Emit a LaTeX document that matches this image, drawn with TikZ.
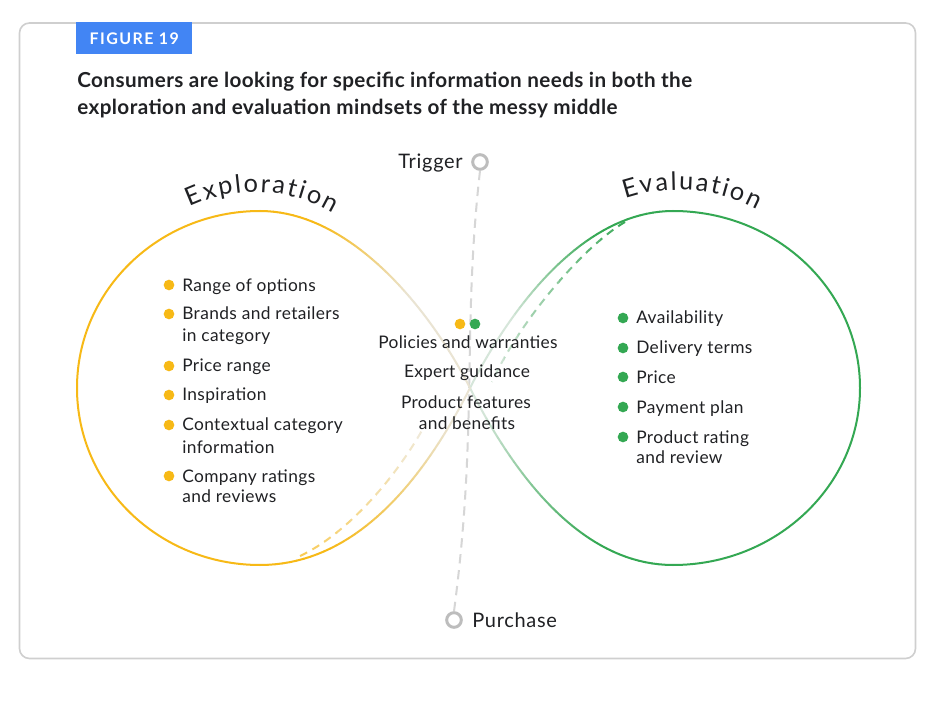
\documentclass[tikz,border=0pt]{standalone}
\usepackage{fontspec}
\setmainfont{Lato}
\usetikzlibrary{calc}
\definecolor{gyel}{HTML}{F7B916}
\definecolor{ggrn}{HTML}{34A853}
\definecolor{gblu}{HTML}{4285F4}
\definecolor{txt}{HTML}{202124}
\definecolor{framec}{HTML}{CFCFCF}
\definecolor{dashgray}{HTML}{D6D6D6}
\definecolor{ringgray}{HTML}{BDBDBD}
\definecolor{paley}{HTML}{EAE4D3}
\definecolor{paleg}{HTML}{D6E6DA}
\newcommand\arcfont{\fontsize{19}{22}\selectfont}
\newdimen\arcacc
\newdimen\arcsum
\newdimen\arcoff
\newdimen\arcgap
\newdimen\arcchw
\newcommand\measurech[1]{%
  \pgfinterruptpicture\global\setbox1=\hbox{\arcfont#1}\endpgfinterruptpicture
  \global\arcchw=\wd1\relax}
% #1 center coordinate, #2 radius px, #3 mid angle, #4 letter spacing (dimen), #5 name prefix, #6 letters
\newcommand\arctext[6]{%
  \global\arcgap=#4\relax
  \global\arcsum=0pt\relax
  \foreach \ch in {#6}{\measurech{\ch}\global\advance\arcsum by \arcchw\relax
    \global\advance\arcsum by \arcgap\relax}%
  \global\advance\arcsum by -\arcgap\relax
  \pgfmathsetmacro\arcr{#2*0.75}%
  \xdef\arcrg{\arcr}%
  \global\arcacc=0pt\relax
  \foreach \ch [count=\k] in {#6}{%
    \measurech{\ch}%
    \arcoff=0.5\arcsum\relax
    \advance\arcoff by -\arcacc\relax
    \advance\arcoff by -0.5\arcchw\relax
    \pgfmathsetmacro\ang{#3+(\arcoff/\arcrg)*180/pi}%
    \node[rotate=\ang-90, anchor=base, inner sep=0pt, outer sep=0pt, font=\arcfont, text=txt]
      (#5\k) at ($(#1)+(\ang:\arcrg pt)$) {\ch};
    \global\advance\arcacc by \arcchw\relax
    \global\advance\arcacc by \arcgap\relax
  }%
}
% faded cubic: #1..#4 points, #5 prefix, #6 colA, #7 colB, #8 ts, #9 te
\newcommand\fadecurve[9]{%
  \foreach \i in {0,...,40}{\path #1 .. controls #2 and #3 .. #4 coordinate[pos=\i/40] (#5\i);}%
  \foreach \i in {0,...,39}{%
    \pgfmathtruncatemacro\j{\i+1}%
    \pgfmathsetmacro\tq{(\i+0.5)/40}%
    \pgfmathtruncatemacro\pp{100*max(0,min(1,(\tq-#8)/(#9-#8)))}%
    \draw[strand, color=#7!\pp!#6] (#5\i) -- (#5\j);
  }%
}
% dashed path with colour bands along x: #1 path, #2 x0, #3 x1, #4 colA, #5 colB
\newcommand\banddash[5]{%
  \foreach \k in {0,...,9}{%
    \begin{scope}
      \pgfmathsetmacro\xa{#2+(#3-#2)*\k/10}%
      \pgfmathsetmacro\xb{#2+(#3-#2)*(\k+1)/10+0.6}%
      \clip (\xa,0) rectangle (\xb,702);
      \pgfmathtruncatemacro\pp{(\k+0.5)*10}%
      \draw[innerdash, color=#5!\pp!#4] #1;
    \end{scope}
  }%
}
\begin{document}
\begin{tikzpicture}[x=0.75pt,y=-0.75pt,
  strand/.style={line width=1.5pt, line cap=round},
  innerdash/.style={line width=1.5pt, dash pattern=on 6pt off 4.5pt},
  loopy/.style={strand, draw=gyel},
  loopg/.style={strand, draw=ggrn},
  item/.style={anchor=base west, inner sep=0pt, text=txt, font=\fontsize{13}{15}\selectfont\addfontfeature{LetterSpace=2.3}},
  citem/.style={anchor=base, inner sep=0pt, text=txt, font=\fontsize{13}{15}\selectfont\addfontfeature{LetterSpace=1.5}},
  dotb/.style={circle, inner sep=0pt, minimum size=8pt},
  ring/.style={circle, draw=ringgray, line width=2.2pt, inner sep=0pt, minimum size=11pt},
  bigt/.style={inner sep=0pt, text=txt, font=\fontsize{15}{17}\selectfont\addfontfeature{LetterSpace=3.5}}]
\useasboundingbox (0,0) rectangle (936,702);
\fill[white] (0,0) rectangle (936,702);
% frame
\draw[framec, line width=1.2pt, rounded corners=7.5pt] (19.5,23) rectangle (915.5,658.5);
\node[fill=gblu, anchor=north west, inner sep=0pt, minimum width=87pt, minimum height=24pt,
  text=white, font=\bfseries\fontsize{12}{14}\selectfont] (fig) at (76,22)
  {\addfontfeature{LetterSpace=9}FIGURE 19};
\node[anchor=base west, inner sep=0pt, text=txt, font=\bfseries\fontsize{15.5}{18}\selectfont\addfontfeature{LetterSpace=2}]
  (title1) at (77,88) {Consumers are looking for specific information needs in both the};
\node[anchor=base west, inner sep=0pt, text=txt, font=\bfseries\fontsize{15.5}{18}\selectfont\addfontfeature{LetterSpace=2}]
  (title2) at (77,115) {exploration and evaluation mindsets of the messy middle};

% key points
\coordinate (T1) at (260,211);
\coordinate (L1) at (77,388);
\coordinate (B1) at (260,565);
\coordinate (T2) at (673,211);
\coordinate (R2) at (860,388);
\coordinate (B2) at (673,565);
\coordinate (C) at (470,388);

% trigger / purchase line
\node[ring] (trig) at (480,162) {};
\node[ring] (purch) at (454,620) {};
\draw[dashgray, line width=1.5pt, dash pattern=on 7pt off 5pt]
  (trig.south) .. controls (462,330) and (478,430) .. (purch.north);
\node[bigt, anchor=base east] (trigt) at (463,169) {Trigger};
\node[bigt, anchor=base west] (purt) at (472,627) {Purchase};

% outer loops
\draw[loopy] (T1) .. controls (159,211) and (77,290) .. (L1) .. controls (77,486) and (159,565) .. (B1);
\draw[loopg] (T2) .. controls (776,211) and (860,290) .. (R2) .. controls (860,486) and (776,565) .. (B2);

% inner dashed strands
\banddash{(300,556) .. controls (345,535) and (395,480) .. (425,425)}{298}{428}{gyel!75!white}{paley}
\banddash{(625,222) .. controls (585,245) and (520,320) .. (492,382)}{490}{628}{paleg}{ggrn}

% crossing strands
\fadecurve{(T1)}{(350,211)}{(429.5,308)}{(C)}{sa}{gyel}{paley}{0.22}{0.62}
\fadecurve{(C)}{(510.5,468)}{(578,565)}{(B2)}{sb}{paleg}{ggrn}{0.1}{0.7}
\fadecurve{(T2)}{(583,211)}{(510.5,308)}{(C)}{sc}{ggrn}{paleg}{0.3}{0.72}
\fadecurve{(C)}{(429.5,468)}{(362,565)}{(B1)}{sd}{paley}{gyel}{0.15}{0.75}

% curved headings
\coordinate (expc) at (255,345);
\coordinate (evac) at (678,358);
\arctext{expc}{153}{87.3}{1.6pt}{ex}{E,x,p,l,o,r,a,t,i,o,n}
\arctext{evac}{168}{85.2}{1.6pt}{ev}{E,v,a,l,u,a,t,i,o,n}

% exploration list
\node[dotb, fill=gyel] (y1) at (169,285) {};
\node[item] (l1) at (182,292) {Range of options};
\node[dotb, fill=gyel] (y2) at (169,314) {};
\node[item] (l2a) at (182,320) {Brands and retailers};
\node[item] (l2b) at (182,342) {in category};
\node[dotb, fill=gyel] (y3) at (169,366) {};
\node[item] (l3) at (182,372) {Price range};
\node[dotb, fill=gyel] (y4) at (169,395) {};
\node[item] (l4) at (182,401) {Inspiration};
\node[dotb, fill=gyel] (y5) at (169,425) {};
\node[item] (l5a) at (182,431) {Contextual category};
\node[item] (l5b) at (182,453) {information};
\node[dotb, fill=gyel] (y6) at (169,476) {};
\node[item] (l6a) at (182,482) {Company ratings};
\node[item] (l6b) at (182,503) {and reviews};

% centre list
\node[dotb, fill=gyel] (cy) at (460,324) {};
\node[dotb, fill=ggrn] (cg) at (475,324) {};
\node[citem] (c1) at (468,349) {Policies and warranties};
\node[citem] (c2) at (467,378) {Expert guidance};
\node[citem] (c3a) at (466,408) {Product features};
\node[citem] (c3b) at (467,430) {and benefits};

% evaluation list
\node[dotb, fill=ggrn] (g1) at (623,318) {};
\node[item] (r1) at (636,324) {Availability};
\node[dotb, fill=ggrn] (g2) at (623,348) {};
\node[item] (r2) at (636,354) {Delivery terms};
\node[dotb, fill=ggrn] (g3) at (623,377) {};
\node[item] (r3) at (636,383) {Price};
\node[dotb, fill=ggrn] (g4) at (623,407) {};
\node[item] (r4) at (636,413) {Payment plan};
\node[dotb, fill=ggrn] (g5) at (623,437) {};
\node[item] (r5a) at (636,443) {Product rating};
\node[item] (r5b) at (636,464) {and review};
\end{tikzpicture}
\end{document}
